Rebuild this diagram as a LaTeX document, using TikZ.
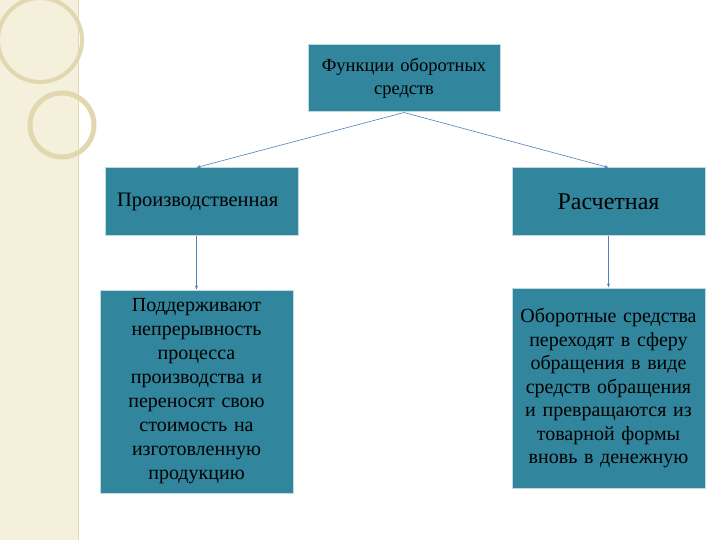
\documentclass[tikz,border=0pt]{standalone}
\usepackage{fontspec}
\setmainfont{Liberation Serif}
\usetikzlibrary{arrows.meta}
\definecolor{teal1}{HTML}{31859C}
\definecolor{edge1}{HTML}{4F81BD}
\definecolor{beige}{HTML}{F5F0DC}
\definecolor{arc1}{HTML}{E2D8B0}
\tikzset{box/.style={draw=white!70!teal1,line width=1pt,fill=teal1,text=black,align=center,inner sep=2pt},
conn/.style={draw=edge1,line width=0.6pt,-{Stealth[length=4pt,width=3pt]}}}
\begin{document}
\begin{tikzpicture}[x=1pt,y=-1pt]
\useasboundingbox (0,0) rectangle (720,540);
\fill[white] (0,0) rectangle (720,540);
\fill[beige] (0,0) rectangle (78,540);
\draw[arc1,line width=4pt] (40,40) circle (42);
\draw[arc1,line width=5pt] (62,125) circle (32);
\draw[arc1,line width=1pt] (78,0) -- (78,540);
\node[box,minimum width=192,minimum height=67,font=\fontsize{18.5}{23}\selectfont,text width=188] (top) at (404,78.5) {Функции оборотных\\средств};
\node[box,minimum width=193,minimum height=67,font=\fontsize{20.5}{23}\selectfont,text width=170,align=left] (pl) at (202,201.5) {Производственная};
\node[box,minimum width=193,minimum height=67,font=\fontsize{24}{28}\selectfont] (pr) at (608.5,201.5) {Расчетная};
\node[box,minimum width=193,minimum height=203,font=\fontsize{20}{24}\selectfont,text width=186] (ll) at (196.5,391.5) {Поддерживают\\непрерывность\\процесса\\производства и\\переносят свою\\стоимость на\\изготовленную\\продукцию};
\node[box,minimum width=193,minimum height=200,font=\fontsize{20}{23.5}\selectfont,text width=186] (lr) at (608.5,388) {Оборотные средства\\переходят в сферу\\обращения в виде\\средств обращения\\и превращаются из\\товарной формы\\вновь в денежную};
\draw[conn] (top.south) -- (pl.north -| 196.5,0);
\draw[conn] (top.south) -- (pr.north);
\draw[conn] (pl.south -| 196.5,0) -- (ll.north);
\draw[conn] (pr.south) -- (lr.north);
\end{tikzpicture}
\end{document}
